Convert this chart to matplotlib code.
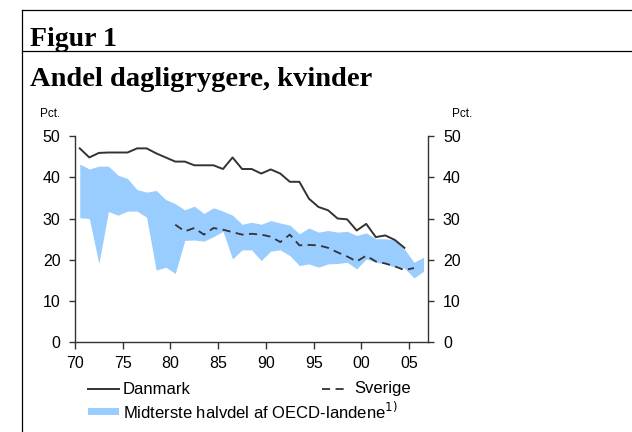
import matplotlib
matplotlib.use("Agg")
import matplotlib.pyplot as plt
from matplotlib.lines import Line2D
from matplotlib.patches import Rectangle

# years (plotted at mid-year)
years_dk = list(range(1970, 2005))
danmark = [47.0, 44.8, 45.9, 46.0, 46.0, 46.0, 47.0, 47.0, 45.8, 44.8,
           43.8, 43.8, 42.9, 42.9, 42.9, 42.0, 44.8, 42.0, 42.0, 40.9,
           41.9, 40.9, 38.9, 38.9, 34.8, 32.8, 32.0, 30.0, 29.8, 27.1,
           28.7, 25.5, 25.9, 24.8, 22.9]

years_se = list(range(1980, 2006))
sverige = [28.5, 26.9, 27.7, 26.1, 27.7, 27.3, 26.7, 26.1, 26.3, 26.1,
           25.6, 24.3, 26.1, 23.5, 23.6, 23.5, 22.9, 21.8, 20.8, 19.6,
           21.0, 19.6, 19.1, 18.4, 17.5, 18.0]

years_oecd = list(range(1970, 2007))
oecd_upper = [43.2, 42.0, 42.7, 42.7, 40.5, 39.7, 37.0, 36.4, 36.8, 34.6,
              33.6, 32.1, 33.0, 31.2, 32.6, 31.8, 30.8, 28.6, 29.1, 28.6,
              29.5, 28.9, 28.4, 26.3, 27.7, 26.7, 27.1, 26.7, 26.9, 25.9,
              26.5, 25.1, 25.1, 24.8, 22.6, 19.4, 20.6]
oecd_lower = [30.2, 30.0, 19.1, 31.7, 30.8, 31.8, 31.8, 30.3, 17.5, 18.2,
              16.7, 24.7, 24.8, 24.5, 25.6, 26.9, 20.2, 22.4, 22.4, 19.8,
              22.1, 22.4, 21.0, 18.6, 19.0, 18.2, 19.0, 19.1, 19.4, 17.8,
              20.2, 19.4, 19.0, 18.2, 18.0, 15.6, 17.2]

xticks = [70, 75, 80, 85, 90, 95, 100, 105]
xticklabels = ["70", "75", "80", "85", "90", "95", "00", "05"]

W, H = 632, 432
fig = plt.figure(figsize=(W / 100, H / 100), dpi=100)
plt.rcParams['font.family'] = ['Liberation Sans', 'DejaVu Sans']

def fx(px):
    return px / W

def fy(py):
    return 1 - py / H

# frame around the figure
fig.add_artist(Line2D([fx(22), fx(22)], [fy(10), 0], color='black', lw=0.9))
fig.add_artist(Line2D([fx(22), 1], [fy(10), fy(10)], color='black', lw=0.9))
fig.add_artist(Line2D([fx(22), 1], [fy(51), fy(51)], color='black', lw=0.9))

fig.text(fx(30), fy(46), "Figur 1", family='Liberation Serif', weight='bold',
         fontsize=20, va='baseline')
fig.text(fx(30), fy(86), "Andel dagligrygere, kvinder", family='Liberation Serif',
         weight='bold', fontsize=20.5, va='baseline')
fig.text(fx(40), fy(117), "Pct.", fontsize=8.5, va='baseline')
fig.text(fx(452), fy(117), "Pct.", fontsize=8.5, va='baseline')

ax = fig.add_axes([fx(75), fy(342.3), fx(428.3) - fx(75), (342.3 - 136) / H])

x_dk = [y - 1900 + 0.5 for y in years_dk]
x_se = [y - 1900 + 0.5 for y in years_se]
x_oe = [y - 1900 + 0.5 for y in years_oecd]

ax.fill_between(x_oe, oecd_lower, oecd_upper, color='#99ccff', lw=0)
ax.plot(x_dk, danmark, color='#333333', lw=1.4)
ax.plot(x_se, sverige, color='#333333', lw=1.3, dashes=(4.5, 3))

ax.set_xlim(70, 107)
ax.set_ylim(0, 50)
ax.set_xticks(xticks)
ax.set_xticklabels(xticklabels)
ax.set_yticks(range(0, 51, 10))
ax.spines['top'].set_visible(False)
for s in ['left', 'right', 'bottom']:
    ax.spines[s].set_color('#333333')
    ax.spines[s].set_linewidth(1.0)
ax.tick_params(axis='y', which='both', left=True, right=True, labelleft=True,
               labelright=True, direction='out', length=4.5, width=1.0,
               color='#333333', labelsize=11.5)
ax.tick_params(axis='y', which='both', pad=6)
for t in ax.yaxis.get_major_ticks():
    t.set_pad(6)
ax.tick_params(axis='x', direction='out', length=5, width=1.0, color='#333333',
               labelsize=11.5, pad=5)

# legend drawn below the chart
fig.add_artist(Line2D([fx(88), fx(119)], [fy(389), fy(389)], color='#333333', lw=1.4))
fig.text(fx(123), fy(389), "Danmark", fontsize=12, va='center')
fig.add_artist(Line2D([fx(322), fx(347)], [fy(389), fy(389)], color='#333333', lw=1.3,
                      dashes=(4.5, 3)))
fig.text(fx(354), fy(389), "Sverige", fontsize=12, va='center')
fig.add_artist(Rectangle((fx(88), fy(415)), fx(119) - fx(88), fy(408) - fy(415),
                         color='#99ccff', lw=0))
fig.text(fx(123), fy(411), "Midterste halvdel af OECD-landene$^{1)}$", fontsize=12,
         va='center')

fig.savefig("out.png", dpi=100)
